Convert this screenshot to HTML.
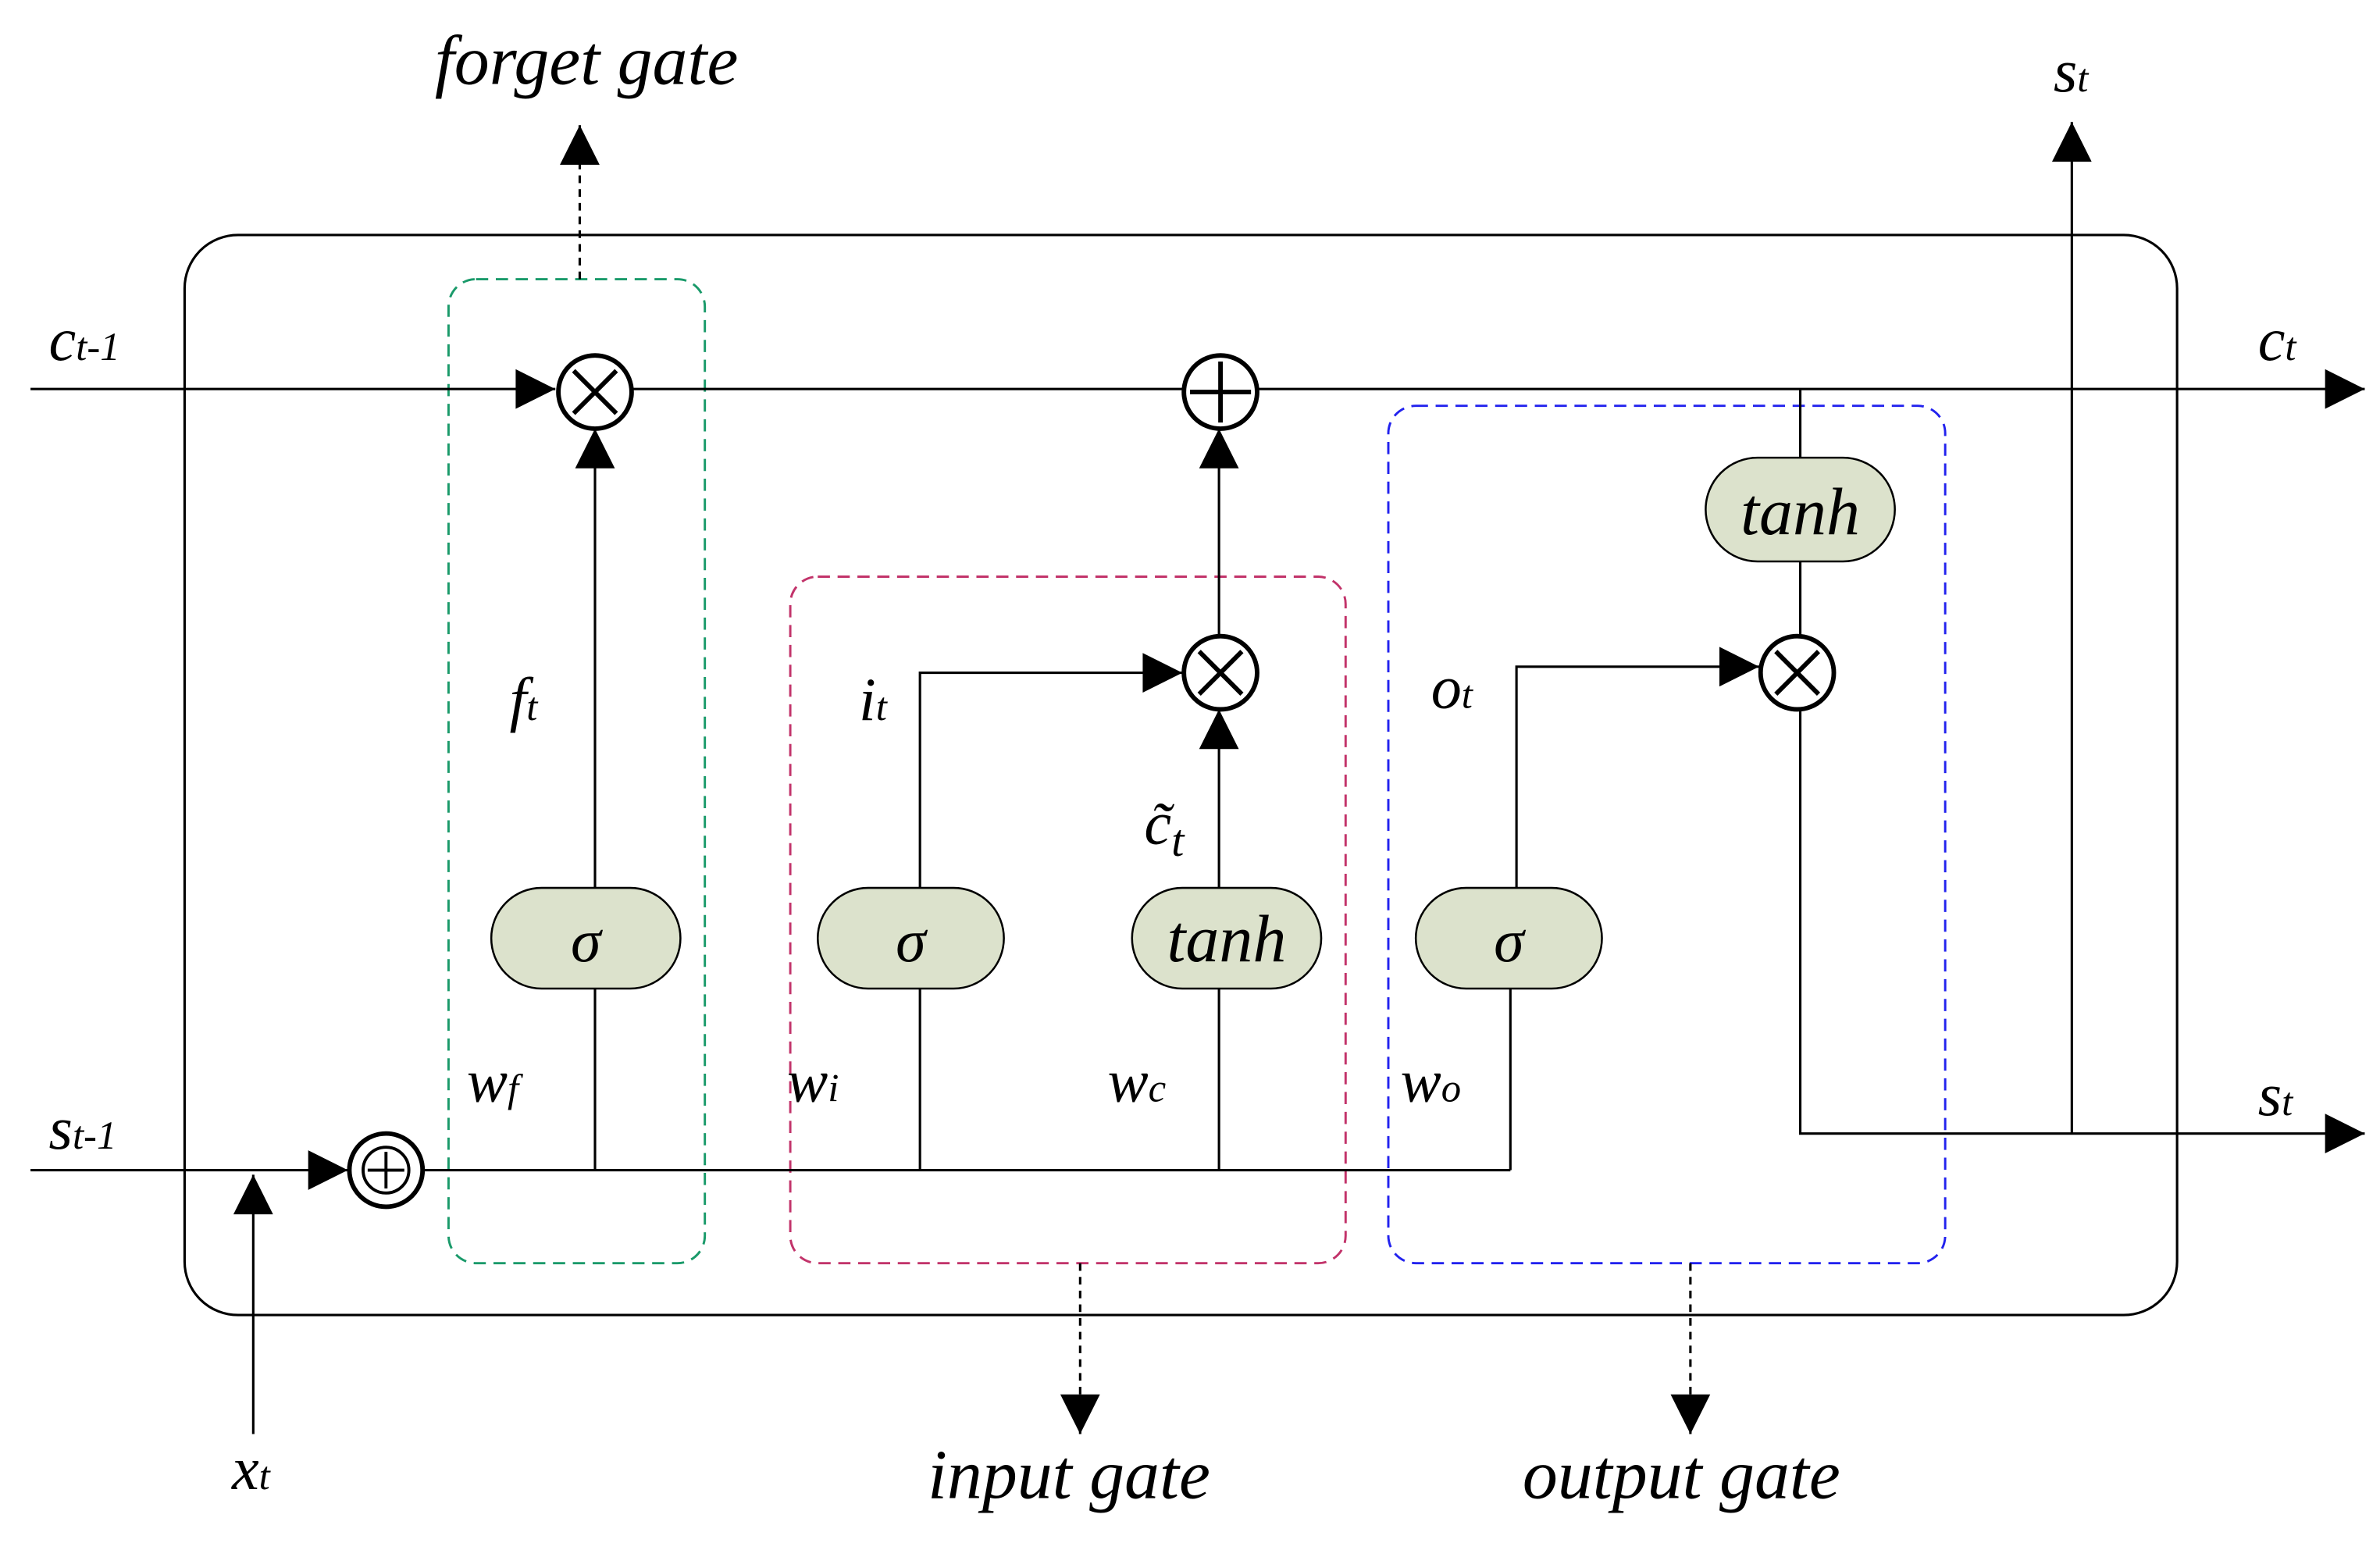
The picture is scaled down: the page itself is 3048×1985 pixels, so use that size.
<!DOCTYPE html>
<html><head><meta charset="utf-8"><style>
html,body{margin:0;padding:0;background:#fff;}
svg{display:block;}
text{font-family:"Liberation Serif",serif;font-style:italic;fill:#000;}
</style></head><body>
<svg width="3048" height="1985" viewBox="0 0 1560 1016" preserveAspectRatio="none" xmlns="http://www.w3.org/2000/svg">
<defs>
<marker id="a" viewBox="0 0 10 10" refX="10" refY="5" markerWidth="32" markerHeight="26" markerUnits="userSpaceOnUse" orient="auto"><path d="M0,0L10,5L0,10z" fill="#000"/></marker>
</defs>
<rect x="121" y="154" width="1306" height="708" rx="35" fill="none" stroke="#000" stroke-width="1.6"/>
<rect x="294" y="183" width="168" height="645" rx="18" fill="none" stroke="#1a9a6a" stroke-width="1.5" stroke-dasharray="8,5"/>
<rect x="518" y="378" width="364" height="450" rx="18" fill="none" stroke="#c2336a" stroke-width="1.5" stroke-dasharray="8,5"/>
<rect x="910" y="266" width="365" height="562" rx="18" fill="none" stroke="#2222ee" stroke-width="1.5" stroke-dasharray="8,5"/>
<g stroke="#000" stroke-width="1.6" fill="none">
<line x1="20" y1="255" x2="364" y2="255" marker-end="url(#a)"/>
<line x1="414" y1="255" x2="776" y2="255"/>
<line x1="824" y1="255" x2="1550" y2="255" marker-end="url(#a)"/>
<line x1="390" y1="582" x2="390" y2="281" marker-end="url(#a)"/>
<line x1="380" y1="183" x2="380" y2="82" stroke-dasharray="5,4" marker-end="url(#a)"/>
<line x1="20" y1="767" x2="228" y2="767" marker-end="url(#a)"/>
<line x1="278" y1="767" x2="990" y2="767"/>
<line x1="166" y1="940" x2="166" y2="770" marker-end="url(#a)"/>
<line x1="390" y1="767" x2="390" y2="648"/>
<line x1="603" y1="767" x2="603" y2="648"/>
<line x1="799" y1="767" x2="799" y2="648"/>
<line x1="990" y1="767" x2="990" y2="648"/>
<polyline points="603,582 603,441 775,441" marker-end="url(#a)"/>
<line x1="799" y1="582" x2="799" y2="465" marker-end="url(#a)"/>
<line x1="799" y1="417" x2="799" y2="281" marker-end="url(#a)"/>
<polyline points="994,582 994,437 1153,437" marker-end="url(#a)"/>
<line x1="1180" y1="255" x2="1180" y2="300"/>
<line x1="1180" y1="368" x2="1180" y2="417"/>
<polyline points="1180,465 1180,743 1550,743" marker-end="url(#a)"/>
<line x1="1358" y1="743" x2="1358" y2="80" marker-end="url(#a)"/>
<line x1="708" y1="828" x2="708" y2="940" stroke-dasharray="5,4" marker-end="url(#a)"/>
<line x1="1108" y1="828" x2="1108" y2="940" stroke-dasharray="5,4" marker-end="url(#a)"/>
</g>
<g stroke="#000" stroke-width="3" fill="#fff">
<circle cx="390" cy="257" r="24"/>
<circle cx="800" cy="257" r="24"/>
<circle cx="800" cy="441" r="24"/>
<circle cx="1178" cy="441" r="24"/>
<circle cx="253" cy="767" r="24"/>
<circle cx="253" cy="767" r="15" stroke-width="2"/>
</g>
<g stroke="#000" stroke-width="3">
<path d="M376,243L404,271M404,243L376,271"/>
<path d="M786,427L814,455M814,427L786,455"/>
<path d="M1164,427L1192,455M1192,427L1164,455"/>
<path d="M800,237V277M780,257H820"/>
<path d="M253,755V779M241,767H265" stroke-width="2"/>
</g>
<g fill="#dce2cc" stroke="#000" stroke-width="1.3">
<rect x="322" y="582" width="124" height="66" rx="33"/>
<rect x="536" y="582" width="122" height="66" rx="33"/>
<rect x="742" y="582" width="124" height="66" rx="33"/>
<rect x="928" y="582" width="122" height="66" rx="33"/>
<rect x="1118" y="300" width="124" height="68" rx="34"/>
</g>
<g font-size="40" text-anchor="middle">
<text x="384" y="630">σ</text>
<text x="597" y="630">σ</text>
<text x="804" y="630" font-size="44">tanh</text>
<text x="989" y="630">σ</text>
<text x="1180" y="350" font-size="44">tanh</text>
</g>
<g font-size="40">
<text x="285" y="55" font-size="46">forget gate</text>
<text x="608" y="982" font-size="46">input gate</text>
<text x="998" y="982" font-size="46">output gate</text>
<text x="32" y="236">c<tspan font-size="26">t-1</tspan></text>
<text x="1480" y="236">c<tspan font-size="26">t</tspan></text>
<text x="32" y="753">s<tspan font-size="26">t-1</tspan></text>
<text x="1480" y="731">s<tspan font-size="26">t</tspan></text>
<text x="1346" y="60">s<tspan font-size="26">t</tspan></text>
<text x="152" y="976">x<tspan font-size="26">t</tspan></text>
<text x="334" y="472">f<tspan font-size="26">t</tspan></text>
<text x="563" y="472">i<tspan font-size="26">t</tspan></text>
<text x="938" y="464">o<tspan font-size="26">t</tspan></text>
<text x="750" y="553">c̃<tspan font-size="30" dy="8">t</tspan></text>
<text x="306" y="722">w<tspan font-size="26">f</tspan></text>
<text x="516" y="722">w<tspan font-size="26">i</tspan></text>
<text x="726" y="722">w<tspan font-size="26">c</tspan></text>
<text x="918" y="722">w<tspan font-size="26">o</tspan></text>
</g>
</svg>
</body></html>
